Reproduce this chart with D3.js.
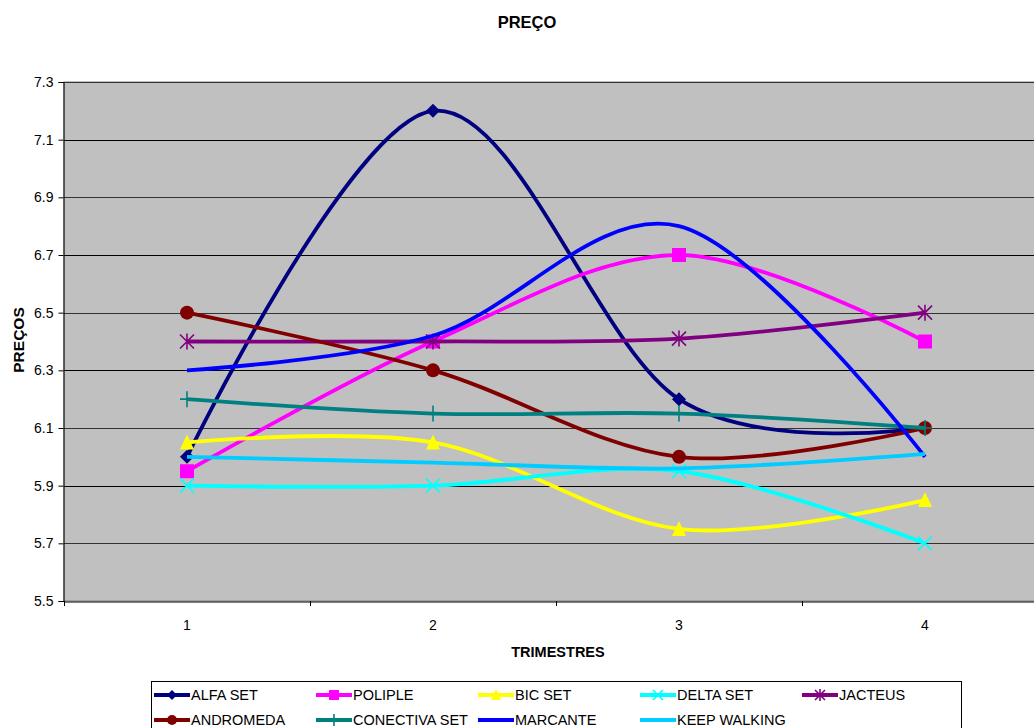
<!DOCTYPE html>
<html>
<head>
<meta charset="utf-8">
<script src="https://cdn.jsdelivr.net/npm/d3@7"></script>
<style>
  html, body { margin: 0; padding: 0; background: #fff; }
  svg { display: block; font-family: "Liberation Sans", Arial, sans-serif; }
</style>
</head>
<body>
<svg id="chart" width="1034" height="728"></svg>
<script>
// Quarters on the x axis
const trimestres = [1, 2, 3, 4];
// Y axis ticks
const yTicks = [5.5, 5.7, 5.9, 6.1, 6.3, 6.5, 6.7, 6.9, 7.1, 7.3];

// Price per quarter for each product
const alfaSet      = [6.0, 7.2, 6.2, 6.1];
const poliple      = [5.95, 6.4, 6.7, 6.4];
const bicSet       = [6.05, 6.05, 5.75, 5.85];
const deltaSet     = [5.9, 5.9, 5.95, 5.7];
const jacteus      = [6.4, 6.4, 6.41, 6.5];
const andromeda    = [6.5, 6.3, 6.0, 6.1];
const conectivaSet = [6.2, 6.15, 6.15, 6.1];
const marcante     = [6.3, 6.42, 6.8, 6.0];
const keepWalking  = [6.0, 5.98, 5.96, 6.01];

const seriesNames = ["ALFA SET", "POLIPLE", "BIC SET", "DELTA SET", "JACTEUS",
                     "ANDROMEDA", "CONECTIVA SET", "MARCANTE", "KEEP WALKING"];
const seriesValues = [alfaSet, poliple, bicSet, deltaSet, jacteus,
                      andromeda, conectivaSet, marcante, keepWalking];

const series = seriesNames.map((name, i) => ({
  name,
  values: seriesValues[i],
  color: ["#000080", "#FF00FF", "#FFFF00", "#00FFFF", "#800080",
          "#800000", "#008080", "#0000FF", "#00CCFF"][i],
  marker: ["diamond", "square", "triangle", "x", "star",
           "circle", "plus", null, null][i]
}));

const svg = d3.select("#chart");
const FONT = "'Liberation Sans', Arial, sans-serif";

const plot = { left: 64, right: 1048, top: 82, bottom: 601 };

const x = d3.scaleBand().domain(trimestres).range([plot.left, plot.right]);
const xc = d => x(d) + x.bandwidth() / 2;
const y = d3.scaleLinear().domain([5.5, 7.3]).range([plot.bottom, plot.top]);

// Plot background
svg.append("rect")
  .attr("x", plot.left).attr("y", plot.top)
  .attr("width", plot.right - plot.left).attr("height", plot.bottom - plot.top)
  .attr("fill", "#C0C0C0")
  .attr("stroke", "#808080").attr("stroke-width", 1);

// Horizontal gridlines
svg.append("g")
  .selectAll("line")
  .data(yTicks.slice(1))
  .join("line")
  .attr("x1", plot.left).attr("x2", plot.right)
  .attr("y1", d => Math.round(y(d)) + 0.5).attr("y2", d => Math.round(y(d)) + 0.5)
  .attr("stroke", (d, i) => i % 2 ? "#000" : "#333")
  .attr("stroke-width", 1);

// Y axis
const yAxis = svg.append("g")
  .attr("transform", `translate(${plot.left - 0.5},0)`)
  .call(d3.axisLeft(y).tickValues(yTicks).tickFormat(d3.format(".1f")).tickSize(5).tickPadding(5));
yAxis.select(".domain").attr("stroke", "#000");
yAxis.selectAll(".tick line").attr("stroke", "#000");
yAxis.selectAll("text").attr("font-size", 14).attr("fill", "#000").attr("font-family", FONT);

// X axis: labels centred in each band, ticks on band boundaries
const xAxis = svg.append("g")
  .attr("transform", `translate(0,${plot.bottom + 0.5})`)
  .call(d3.axisBottom(x).tickSize(0).tickPadding(19));
xAxis.select(".domain").attr("stroke", "#000");
xAxis.selectAll("text").attr("font-size", 14).attr("fill", "#000").attr("font-family", FONT);
svg.append("g")
  .selectAll("line")
  .data(trimestres)
  .join("line")
  .attr("x1", d => Math.round(x(d)) + 0.5).attr("x2", d => Math.round(x(d)) + 0.5)
  .attr("y1", plot.bottom).attr("y2", plot.bottom + 5)
  .attr("stroke", "#000");

// Marker drawing
function drawMarker(g, type, color, size) {
  const s = size / 2;
  if (type === "diamond") {
    g.append("path").attr("d", `M0,${-s}L${s},0L0,${s}L${-s},0Z`).attr("fill", color);
  } else if (type === "square") {
    g.append("rect").attr("x", -s).attr("y", -s).attr("width", size).attr("height", size).attr("fill", color);
  } else if (type === "triangle") {
    g.append("path").attr("d", `M0,${-s - 1}L${s},${s}L${-s},${s}Z`).attr("fill", color);
  } else if (type === "circle") {
    g.append("circle").attr("r", s).attr("fill", color);
  } else if (type === "x") {
    g.append("path").attr("d", `M${-s},${-s}L${s},${s}M${s},${-s}L${-s},${s}`)
      .attr("stroke", color).attr("stroke-width", 1.6).attr("fill", "none");
  } else if (type === "star") {
    g.append("path").attr("d", `M${-s},${-s}L${s},${s}M${s},${-s}L${-s},${s}M0,${-s - 1}L0,${s + 1}`)
      .attr("stroke", color).attr("stroke-width", 1.6).attr("fill", "none");
  } else if (type === "plus") {
    g.append("path").attr("d", `M0,${-s - 1}L0,${s + 1}M${-s},0L${s},0`)
      .attr("stroke", color).attr("stroke-width", 1.6).attr("fill", "none");
  }
}

// Smoothed series lines
const line = d3.line()
  .x((d, i) => xc(trimestres[i]))
  .y(d => y(d))
  .curve(d3.curveCardinal.tension(0));

const seriesG = svg.append("g");
series.forEach(s => {
  const g = seriesG.append("g");
  g.append("path")
    .attr("d", line(s.values))
    .attr("fill", "none")
    .attr("stroke", s.color)
    .attr("stroke-width", 3.8)
    .attr("stroke-linejoin", "round");
  if (s.marker) {
    s.values.forEach((v, i) => {
      const m = g.append("g").attr("transform", `translate(${xc(trimestres[i])},${y(v)})`);
      drawMarker(m, s.marker, s.color, 14);
    });
  }
});

// Titles
svg.append("text")
  .attr("x", 527).attr("y", 28)
  .attr("text-anchor", "middle")
  .attr("font-size", 16.5).attr("font-weight", "bold")
  .text("PREÇO");

svg.append("text")
  .attr("x", 558).attr("y", 657)
  .attr("text-anchor", "middle")
  .attr("font-size", 14.5).attr("font-weight", "bold")
  .text("TRIMESTRES");

svg.append("text")
  .attr("transform", "translate(24,340) rotate(-90)")
  .attr("text-anchor", "middle")
  .attr("font-size", 15.5).attr("font-weight", "bold")
  .text("PREÇOS");

// Legend
const legend = svg.append("g");
legend.append("rect")
  .attr("x", 151.5).attr("y", 681.5)
  .attr("width", 810).attr("height", 60)
  .attr("fill", "#fff").attr("stroke", "#000");

const colX = [154, 316, 478, 640, 802];
const rowY = [695, 720];
series.forEach((s, i) => {
  const cx = colX[i % 5];
  const cy = rowY[Math.floor(i / 5)];
  const g = legend.append("g").attr("transform", `translate(${cx},${cy})`);
  g.append("line").attr("x1", 0).attr("x2", 36).attr("y1", 0).attr("y2", 0)
    .attr("stroke", s.color).attr("stroke-width", 4);
  if (s.marker) {
    const m = g.append("g").attr("transform", "translate(18,0)");
    drawMarker(m, s.marker, s.color, 10);
  }
  g.append("text")
    .attr("x", 37).attr("y", 0).attr("dy", "0.36em")
    .attr("font-size", 14.5)
    .text(s.name);
});
</script>
</body>
</html>
